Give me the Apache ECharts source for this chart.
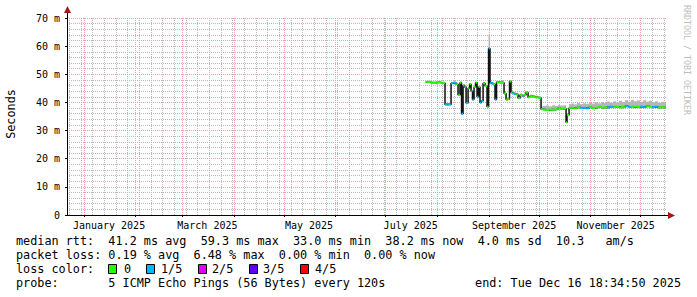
<!DOCTYPE html>
<html><head><meta charset="utf-8">
<script src="https://cdn.jsdelivr.net/npm/echarts@6/dist/echarts.min.js"></script>
<style>html,body{margin:0;padding:0;background:#fff}#c{width:697px;height:297px}</style>
</head><body><div id="c"></div>
<script>
// ---- data (median rtt in ms, loss level index, smoke top in ms)
const times = ['2025-07-25 05:00','2025-07-28 05:00','2025-07-31 05:00','2025-08-03 05:00','2025-08-05 14:00',
'2025-08-07 02:00','2025-08-09 05:00','2025-08-10 17:00','2025-08-12 05:00','2025-08-13 10:00',
'2025-08-14 14:00','2025-08-15 12:00','2025-08-16 10:00','2025-08-17 07:00','2025-08-18 05:00',
'2025-08-19 10:00','2025-08-20 07:00','2025-08-21 05:00','2025-08-22 02:00','2025-08-23 00:00',
'2025-08-23 22:00','2025-08-24 19:00','2025-08-25 17:00','2025-08-26 14:00','2025-08-27 12:00',
'2025-08-28 10:00','2025-08-29 14:00','2025-08-30 19:00','2025-08-31 17:00','2025-09-01 14:00',
'2025-09-02 12:00','2025-09-03 10:00','2025-09-04 14:00','2025-09-05 12:00','2025-09-06 10:00',
'2025-09-08 05:00','2025-09-10 00:00','2025-09-11 05:00','2025-09-12 02:00','2025-09-13 07:00',
'2025-09-14 05:00','2025-09-15 02:00','2025-09-16 00:00','2025-09-17 05:00','2025-09-18 10:00',
'2025-09-19 14:00','2025-09-20 19:00','2025-09-22 00:00','2025-09-23 05:00','2025-09-24 10:00',
'2025-09-25 14:00','2025-09-26 19:00','2025-09-28 14:00','2025-09-30 10:00','2025-10-02 05:00',
'2025-10-03 10:00','2025-10-05 05:00','2025-10-07 00:00','2025-10-08 19:00','2025-10-10 14:00',
'2025-10-12 10:00','2025-10-13 14:00','2025-10-15 10:00','2025-10-17 05:00','2025-10-17 19:00',
'2025-10-19 00:00','2025-10-20 05:00','2025-10-22 00:00','2025-10-23 19:00','2025-10-25 14:00',
'2025-10-27 10:00','2025-10-29 05:00','2025-10-31 00:00','2025-11-01 19:00','2025-11-03 14:00',
'2025-11-05 10:00','2025-11-07 05:00','2025-11-09 00:00','2025-11-10 19:00','2025-11-12 14:00',
'2025-11-14 10:00','2025-11-16 05:00','2025-11-18 00:00','2025-11-19 19:00','2025-11-21 14:00',
'2025-11-23 10:00','2025-11-25 05:00','2025-11-27 00:00','2025-11-28 19:00','2025-11-30 14:00',
'2025-12-02 10:00','2025-12-04 05:00','2025-12-06 00:00','2025-12-07 19:00','2025-12-09 14:00',
'2025-12-11 10:00','2025-12-13 05:00','2025-12-15 00:00','2025-12-16 05:00'];
const medianMs = [47.2,47.3,47.0,47.2,46.9,
39.3,39.3,46.8,47.0,46.5,
42.6,47.0,36.0,46.0,45.5,
39.8,45.0,46.5,44.0,41.0,
45.5,47.0,42.0,45.5,40.0,
40.5,46.8,45.8,38.5,59.2,
46.8,46.8,46.5,41.0,47.2,
47.1,47.0,43.2,41.0,41.2,
47.4,43.5,43.3,43.0,42.8,
41.5,42.6,42.3,42.6,43.5,
41.8,42.2,42.0,41.8,41.6,
37.6,37.4,37.3,37.5,37.4,
37.6,38.0,37.7,37.8,33.0,
35.5,38.0,38.1,37.9,38.2,
38.0,38.1,37.9,38.3,38.0,
38.2,38.4,38.1,38.3,38.2,
38.5,38.3,38.4,38.2,38.3,
38.6,38.4,38.3,38.5,38.4,
38.5,38.3,38.6,38.4,38.3,
38.5,38.2,38.3,38.2];
const lossLevel = [0,0,0,0,0,
1,1,1,1,0,
0,0,1,0,1,
1,0,0,1,1,
0,0,1,0,1,
1,0,0,0,1,
1,1,0,1,0,
0,0,0,0,0,
0,0,1,1,0,
0,0,1,0,0,
0,0,0,0,0,
0,0,0,0,0,
0,0,0,0,0,
0,0,0,0,0,
1,1,1,0,0,
0,0,0,0,1,
1,0,0,0,0,
1,1,0,0,0,
1,1,0,0,1,
1,0,0,0];
const smokeTopMs = [47.6,47.7,47.5,47.6,47.4,
39.8,39.8,47.3,47.5,47.0,
43.0,47.5,36.5,46.5,46.0,
40.3,45.5,47.0,44.5,41.5,
46.0,47.5,42.5,46.0,40.5,
41.0,47.3,46.3,39.0,64.0,
47.5,47.4,47.0,41.6,47.8,
47.6,48.0,44.0,41.6,41.8,
47.8,44.0,43.8,43.6,43.4,
42.0,43.2,42.8,43.2,44.0,
42.4,42.8,42.6,42.4,42.2,
38.6,38.8,38.9,38.6,39.0,
38.8,39.1,38.9,39.0,33.6,
36.2,39.4,39.6,39.3,39.8,
39.4,39.7,39.5,39.9,39.6,
40.0,39.7,40.1,39.8,40.3,
39.9,40.4,40.0,40.6,40.2,
40.8,40.3,40.9,40.4,40.7,
40.2,40.8,40.3,40.6,40.1,
40.4,39.9,40.2,39.8];
const lossLabels = ['0','1/5','2/5','3/5','4/5'];
const lossColors = ['#26ff00','#00b8ff','#dd00ff','#5e00ff','#ff0000'];
const monthStarts = ['2025-01-01','2025-02-01','2025-03-01','2025-04-01','2025-05-01','2025-06-01',
  '2025-07-01','2025-08-01','2025-09-01','2025-10-01','2025-11-01','2025-12-01'];
const labelDates = ['2025-01-16','2025-03-16','2025-05-16','2025-07-16','2025-09-16','2025-11-16'];
const tickLabels = ['January 2025','March 2025','May 2025','July 2025','September 2025','November 2025'];
const rangeStart = '2024-12-21 18:34:50';
const rangeEnd = '2025-12-16 18:34:50';
const firstMonday = '2024-12-23';
const statLines = [
  'median rtt:  41.2 ms avg  59.3 ms max  33.0 ms min  38.2 ms now  4.0 ms sd  10.3   am/s',
  'packet loss: 0.19 % avg  6.48 % max  0.00 % min  0.00 % now'
];
const probeText = 'probe:       5 ICMP Echo Pings (56 Bytes) every 120s';
const endText = 'end: Tue Dec 16 18:34:50 2025';

// ---- helpers
function toMs(s){
  const m = s.match(/(\d+)-(\d+)-(\d+)(?:\s+(\d+):(\d+)(?::(\d+))?)?/);
  return new Date(+m[1], +m[2]-1, +m[3], +(m[4]||0), +(m[5]||0), +(m[6]||0)).getTime();
}
const tMs = times.map(toMs);
const xMin = toMs(rangeStart), xMax = toMs(rangeEnd);
const monthMs = monthStarts.map(toMs);
const labelMs = labelDates.map(toMs);
const weekGrid = [];
for (let k = 0; k < 60; k++) {
  const t = toMs(firstMonday) + k * 7 * 86400e3;
  if (t < xMax && monthMs.every(m => Math.abs(m - t) > 4 * 3600e3)) weekGrid.push([t, 0, 70]);
}

const MONO = '"DejaVu Sans Mono", monospace';
const LEG_FONT = '11.8px ' + MONO;
const MAJOR = '#f2a0a0', MINOR = '#b8b8b8';

const chart = echarts.init(document.getElementById('c'), null, {renderer:'svg', width:697, height:297});

const legendY = [241, 255, 269, 283];
const graphics = [
  {type:'text', x:11, y:114, rotation:Math.PI/2, style:{text:'Seconds', font:LEG_FONT, fill:'#000', align:'center', verticalAlign:'middle', textAlign:'center', textVerticalAlign:'middle'}},
  {type:'text', x:687, y:5, rotation:-Math.PI/2, style:{text:'RRDTOOL / TOBI OETIKER', font:'8.3px ' + MONO, fill:'#bdbdbd', align:'left', verticalAlign:'middle', textAlign:'left', textVerticalAlign:'middle'}},
  {type:'text', x:16, y:legendY[0], style:{text:statLines[0], font:LEG_FONT, fill:'#000', verticalAlign:'middle', textVerticalAlign:'middle'}},
  {type:'text', x:16, y:legendY[1], style:{text:statLines[1], font:LEG_FONT, fill:'#000', verticalAlign:'middle', textVerticalAlign:'middle'}},
  {type:'text', x:16, y:legendY[2], style:{text:'loss color:', font:LEG_FONT, fill:'#000', verticalAlign:'middle', textVerticalAlign:'middle'}},
  {type:'text', x:16, y:legendY[3], style:{text:probeText, font:LEG_FONT, fill:'#000', verticalAlign:'middle', textVerticalAlign:'middle'}},
  {type:'text', x:681, y:legendY[3], style:{text:endText, font:LEG_FONT, fill:'#000', align:'right', textAlign:'right', verticalAlign:'middle', textVerticalAlign:'middle'}},
  // axis arrows
  {type:'line', shape:{x1:67.5, y1:18, x2:67.5, y2:12}, style:{stroke:'#000', lineWidth:1}},
  {type:'polygon', shape:{points:[[64,13],[67.5,6],[71,13]]}, style:{fill:'#a01818'}},
  {type:'line', shape:{x1:667, y1:215.5, x2:669, y2:215.5}, style:{stroke:'#000', lineWidth:1}},
  {type:'polygon', shape:{points:[[668,212],[675,215.5],[668,219]]}, style:{fill:'#a01818'}}
];
const boxX = [108, 146, 198, 249, 300];
const boxLabelX = [124, 161, 212, 263, 315];
lossLabels.forEach((lab, k) => {
  graphics.push({type:'rect', shape:{x:boxX[k]+0.5, y:legendY[2]-4.5, width:8, height:9}, style:{fill:lossColors[k], stroke:'#000', lineWidth:1}});
  graphics.push({type:'text', x:boxLabelX[k], y:legendY[2], style:{text:lab, font:LEG_FONT, fill:'#000', verticalAlign:'middle', textVerticalAlign:'middle'}});
});

function prevT(i){ return i > 0 ? tMs[i-1] : tMs[i] - 12*3600e3; }

const option = {
  animation:false,
  backgroundColor:'#fff',
  grid:{left:67, top:18, width:600, height:197, containLabel:false, outerBoundsMode:'none'},
  xAxis:{type:'value', min:xMin, max:xMax, position:'bottom', z:1, scale:true,
     axisLine:{show:true, onZero:false, lineStyle:{color:'#000', width:1}},
     axisTick:{show:true, customValues:monthMs, length:2, lineStyle:{color:'#000'}},
     axisLabel:{show:true, customValues:labelMs, hideOverlap:false, margin:5, showMinLabel:true, showMaxLabel:true,
       fontFamily:MONO, fontSize:10, color:'#000',
       formatter:function(v){ const k = labelMs.findIndex(m => Math.abs(m - v) < 3600e3); return k >= 0 ? tickLabels[k] : ''; }},
     splitLine:{show:true, lineStyle:{color:MAJOR, width:1, type:[1,1]}}},
  yAxis:{type:'value', min:0, max:70, interval:10,
    axisLine:{show:true, lineStyle:{color:'#000'}},
    axisTick:{show:true, length:2, lineStyle:{color:'#000'}},
    axisLabel:{margin:7, fontFamily:MONO, fontSize:10, color:'#000', formatter:function(v){ return v === 0 ? '0' : v + ' m'; }},
    splitLine:{show:true, lineStyle:{color:MAJOR, width:1, type:[1,1]}},
    minorTick:{show:true, splitNumber:5, length:0},
    minorSplitLine:{show:true, lineStyle:{color:MINOR, width:1, type:[1,1]}}},
  series:[
    {name:'weekGrid', type:'custom', silent:true, z:1, clip:true,
     data:weekGrid, encode:{x:0, y:[1,2]},
     renderItem:function(params, api){
       const a = api.coord([api.value(0), api.value(1)]);
       const b = api.coord([api.value(0), api.value(2)]);
       const x = Math.round(a[0]) + 0.5;
       return {type:'line', shape:{x1:x, y1:a[1], x2:x, y2:b[1]}, style:{stroke:MINOR, lineWidth:1, lineDash:[1,1]}};
     }},
    {name:'smoke', type:'custom', silent:true, z:2,
     data:tMs.map((t,i)=>[t, medianMs[i], smokeTopMs[i]]), encode:{x:0, y:[1,2]},
     renderItem:function(params, api){
       const i = params.dataIndex;
       const a = api.coord([prevT(i), api.value(2)]);
       const b = api.coord([api.value(0), api.value(1)]);
       return {type:'rect', shape:{x:a[0], y:a[1], width:Math.max(b[0]-a[0], 1.5), height:b[1]-a[1]}, style:{fill:'#b5b5b5'}};
     }},
    {name:'median', type:'line', step:'start', showSymbol:false, symbol:'none', silent:true,
     data:tMs.map((t,i)=>[t, medianMs[i]]), lineStyle:{color:'#111', width:1.5}, z:3},
    {name:'loss', type:'custom', silent:true, z:4,
     data:tMs.map((t,i)=>[t, medianMs[i], lossLevel[i]]), encode:{x:0, y:1},
     renderItem:function(params, api){
       const i = params.dataIndex;
       const a = api.coord([prevT(i), api.value(1)]);
       const b = api.coord([api.value(0), api.value(1)]);
       return {type:'line', shape:{x1:a[0], y1:a[1], x2:b[0], y2:b[1]}, style:{stroke:lossColors[api.value(2)], lineWidth:2}};
     }}
  ],
  graphic:graphics
};
chart.setOption(option);
</script>
</body></html>
